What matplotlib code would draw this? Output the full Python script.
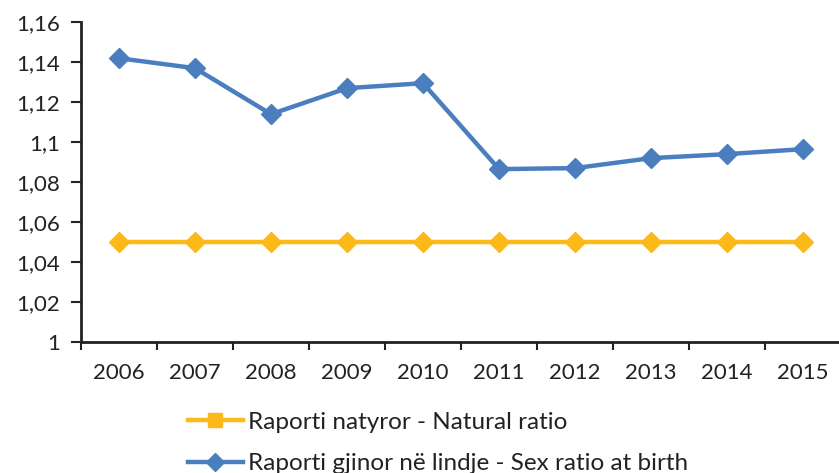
#%% import

import matplotlib
matplotlib.use('Agg')
import matplotlib.pyplot as plt
from matplotlib.lines import Line2D


#%% data

years = ['2006', '2007', '2008', '2009', '2010', '2011', '2012', '2013', '2014', '2015']
natural = [1.05, 1.05, 1.05, 1.05, 1.05, 1.05, 1.05, 1.05, 1.05, 1.05]
sex_ratio = [1.142, 1.137, 1.114, 1.127, 1.1295, 1.0865, 1.087, 1.092, 1.094, 1.0965]
yticks = [1.0, 1.02, 1.04, 1.06, 1.08, 1.1, 1.12, 1.14, 1.16]
ytick_labels = ['1', '1,02', '1,04', '1,06', '1,08', '1,1', '1,12', '1,14', '1,16']

blue = '#4A7EBF'
yellow = '#FDB81A'


#%% plot

plt.rcParams['font.family'] = ['Lato', 'DejaVu Sans']

fig = plt.figure(figsize=(8.39, 4.73), dpi=100)
ax = fig.add_axes([0.0965, 0.277, 0.906, 0.676])

x = list(range(len(years)))
ax.plot(x, natural, color=yellow, linewidth=3.2, marker='D', markersize=10)
ax.plot(x, sex_ratio, color=blue, linewidth=3.2, marker='D', markersize=10)

ax.set_xlim(-0.5, len(years) - 0.5)
ax.set_ylim(1.0, 1.16)
ax.set_yticks(yticks)
ax.set_yticklabels(ytick_labels)
ax.set_xticks([i - 0.5 for i in range(len(years) + 1)])
ax.set_xticklabels([])
ax.set_xticks(x, minor=True)
ax.set_xticklabels(years, minor=True)
ax.tick_params(axis='x', which='minor', length=0, pad=15, labelsize=16, colors='#222222')
ax.tick_params(axis='x', which='major', length=6, width=1.5, direction='out', color='#222222')
ax.tick_params(axis='y', length=7, width=1.5, direction='out', labelsize=16, pad=8,
               color='#222222', labelcolor='#222222')

for s in ['top', 'right']:
    ax.spines[s].set_visible(False)
for s in ['left', 'bottom']:
    ax.spines[s].set_linewidth(2)
    ax.spines[s].set_color('#222222')
    ax.spines[s].set_clip_on(False)

handles = [Line2D([0], [0], color=yellow, linewidth=3.2, marker='s', markersize=10),
           Line2D([0], [0], color=blue, linewidth=3.2, marker='D', markersize=9)]
labels = ['Raporti natyror - Natural ratio', 'Raporti gjinor në lindje - Sex ratio at birth']
fig.legend(handles, labels, loc='upper left', bbox_to_anchor=(0.224, 0.13),
           frameon=False, fontsize=17.5, handlelength=2.26, handletextpad=0.2,
           labelspacing=0.85, borderaxespad=0, borderpad=0, labelcolor='#222222')

plt.savefig('out.png', dpi=100)
